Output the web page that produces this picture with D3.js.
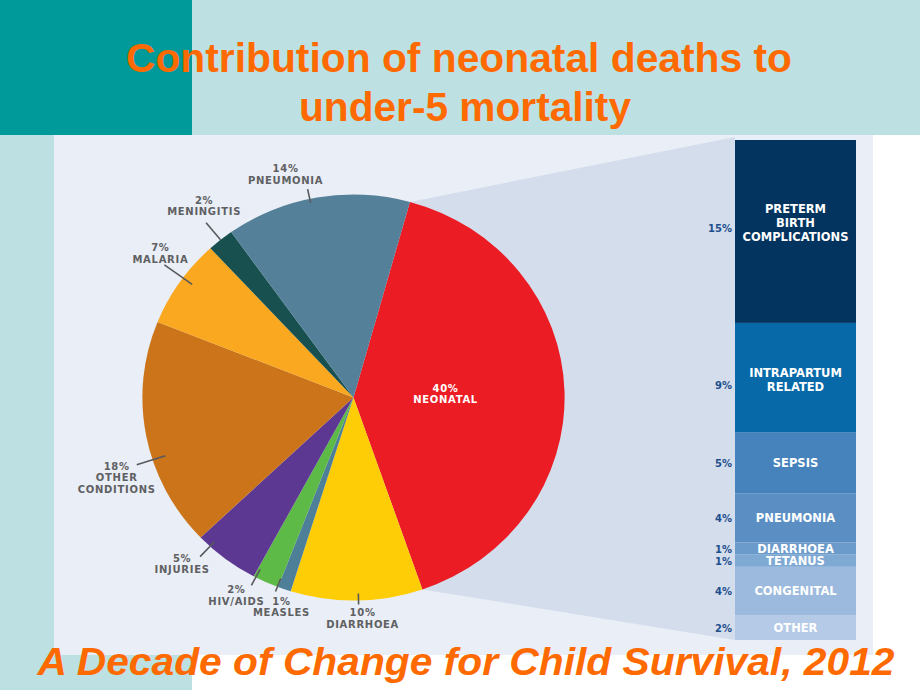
<!DOCTYPE html>
<html><head><meta charset="utf-8">
<script src="https://cdn.jsdelivr.net/npm/d3@7"></script>
<style>body{margin:0;background:#fff}svg{display:block}</style>
</head><body><svg id="c" width="920" height="690"></svg>
<script>
// ---- data ----
const pieCategories = ["NEONATAL","DIARRHOEA","MEASLES","HIV/AIDS","INJURIES","OTHER\nCONDITIONS","MALARIA","MENINGITIS","PNEUMONIA"];
const pieValues = [40,10,1,2,5,18,7,2,14];
const pieColors = ["#ec1c24","#ffcd05","#4e7f99","#5dba47","#5c3893","#cc7419","#f9a81f","#17504f","#55809a"];
const barCategories = ["PRETERM\nBIRTH\nCOMPLICATIONS","INTRAPARTUM\nRELATED","SEPSIS","PNEUMONIA","DIARRHOEA","TETANUS","CONGENITAL","OTHER"];
const barValues = [15,9,5,4,1,1,4,2];
const barColors = ["#03345f","#0769a8","#4682bb","#5b8fc4","#6b9bcb","#7ea9d3","#9bbadd","#b4cae6"];
const titleLines = ["Contribution of neonatal deaths to","under-5 mortality"];
const sourceText = "A Decade of Change for Child Survival, 2012";

// ---- layout ----
const W = 920, H = 690;
const cx = 353.5, cy = 397.5, R = 203, sx = 1.04;
const startDeg = 15.5;
// per outside label: angle tweak (deg), leader radii, text offset from leader end
const labelLayout = [
  null,
  {da:-0.5, r0:196, r1:207, dx:4,  dy:8},
  {da:2,    r0:194, r1:208, dx:6,  dy:9},
  {da:3,    r0:194, r1:212, dx:-15,dy:4},
  {da:5.5,  r0:197, r1:217, dx:-18,dy:1},
  {da:-7,   r0:190, r1:219, dx:-20,dy:1},
  {da:1.5,  r0:192, r1:225, dx:-4, dy:-18},
  {da:0,    r0:203, r1:225, dx:-2, dy:-23},
  {da:-2,   r0:199, r1:213, dx:-22,dy:-21}
];
const pieFont = 10, pieLS = 0.7, pieLH = 11.7;
const barX = 735, barW = 121, barTop = 140, barBottom = 640;
const barTextDy = [-8,2,0,0,0,0,0,0];
const barPctDy = [-3,7,0,0,0,0,0,0];

const svg = d3.select("#c");
const rad = d => d * Math.PI / 180;

// ---- background ----
svg.append("rect").attr("width",W).attr("height",H).attr("fill","#ffffff");
svg.append("rect").attr("width",W).attr("height",135).attr("fill","#bde1e3");
svg.append("rect").attr("width",192).attr("height",135).attr("fill","#009a9a");
svg.append("rect").attr("x",0).attr("y",135).attr("width",54).attr("height",520).attr("fill","#bde1e3");
svg.append("rect").attr("x",0).attr("y",655).attr("width",192).attr("height",35).attr("fill","#bde1e3");
svg.append("rect").attr("x",54).attr("y",135).attr("width",819).attr("height",520).attr("fill","#e9eef7");

// ---- pie geometry ----
const pie = d3.pie().sort(null).value(d => d)
  .startAngle(rad(startDeg)).endAngle(rad(startDeg) + 2*Math.PI);
const arcs = pie(pieValues);
const toScreen = p => [cx + p[0]*sx, cy + p[1]];

// ---- zoom wedge ----
const yScale = d3.scaleLinear().domain([0, d3.sum(barValues)]).range([barTop, barBottom]);
const neo = arcs[0];
const pA = toScreen(d3.pointRadial(neo.startAngle, R));
const pB = toScreen(d3.pointRadial(neo.endAngle, R));
svg.append("path")
  .attr("d", d3.line()([[cx,cy], pA, [barX, yScale(0)-3], [barX, yScale(d3.sum(barValues))], pB]) + "Z")
  .attr("fill","#d4ddec");

// ---- pie ----
const gPie = svg.append("g").attr("transform",`translate(${cx},${cy}) scale(${sx},1)`);
const arcGen = d3.arc().innerRadius(0).outerRadius(R);
gPie.selectAll("path").data(arcs).join("path")
  .attr("d", arcGen)
  .attr("fill", (d,i) => pieColors[i]);

// neonatal label (inside)
{
  const mid = (neo.startAngle + neo.endAngle)/2;
  const p = toScreen(d3.pointRadial(mid, R*0.46));
  const t = svg.append("text").attr("text-anchor","middle")
    .attr("font-family","DejaVu Sans").attr("font-weight","bold")
    .attr("font-size",pieFont).attr("letter-spacing",pieLS).attr("fill","#ffffff");
  [pieValues[0]+"%", pieCategories[0]].forEach((s,k) =>
    t.append("tspan").attr("x",p[0]-5).attr("y",p[1]-3+k*pieLH).text(s));
}

// outside labels with leaders
arcs.forEach((a,i) => {
  if (i === 0) return;
  const L = labelLayout[i];
  const ang = (a.startAngle + a.endAngle)/2 + rad(L.da);
  const p0 = toScreen(d3.pointRadial(ang, L.r0));
  const p1 = toScreen(d3.pointRadial(ang, L.r1));
  svg.append("line").attr("x1",p0[0]).attr("y1",p0[1]).attr("x2",p1[0]).attr("y2",p1[1])
    .attr("stroke","#58595b").attr("stroke-width",1.6);
  const lines = [pieValues[i]+"%"].concat(pieCategories[i].split("\n"));
  const t = svg.append("text").attr("text-anchor","middle")
    .attr("font-family","DejaVu Sans").attr("font-weight","bold")
    .attr("font-size",pieFont).attr("letter-spacing",pieLS).attr("fill","#5f6062");
  lines.forEach((s,k) =>
    t.append("tspan").attr("x",p1[0]+L.dx).attr("y",p1[1]+L.dy+4+k*pieLH).text(s));
});

// ---- stacked bar ----
let cum = 0;
const segs = barValues.map((v,i) => { const s = {i, v, y0: cum, y1: cum+v}; cum += v; return s; });
svg.selectAll("rect.seg").data(segs).join("rect").attr("class","seg")
  .attr("x",barX).attr("width",barW)
  .attr("y",d => yScale(d.y0)).attr("height",d => yScale(d.y1)-yScale(d.y0))
  .attr("fill",d => barColors[d.i]);

segs.forEach(d => {
  const ym = (yScale(d.y0)+yScale(d.y1))/2;
  const lines = barCategories[d.i].split("\n");
  const lh = 14;
  const t = svg.append("text").attr("text-anchor","middle")
    .attr("font-family","DejaVu Sans").attr("font-weight","bold")
    .attr("font-size",11.5).attr("fill","#ffffff");
  lines.forEach((s,k) =>
    t.append("tspan").attr("x",barX+barW/2)
      .attr("y", ym + barTextDy[d.i] + 4 + (k-(lines.length-1)/2)*lh).text(s));
  svg.append("text").attr("x",barX-3).attr("y",ym+barPctDy[d.i]+4)
    .attr("text-anchor","end").attr("font-family","DejaVu Sans").attr("font-weight","bold")
    .attr("font-size",10).attr("fill","#1d4f8c").text(d.v+"%");
});

// ---- titles ----
svg.append("text").attr("x",459).attr("y",72).attr("text-anchor","middle")
  .attr("font-family","Liberation Sans").attr("font-weight","bold").attr("font-size",41)
  .attr("fill","#ff6a00").attr("textLength",666).attr("lengthAdjust","spacingAndGlyphs")
  .text(titleLines[0]);
svg.append("text").attr("x",465).attr("y",121).attr("text-anchor","middle")
  .attr("font-family","Liberation Sans").attr("font-weight","bold").attr("font-size",41)
  .attr("fill","#ff6a00").attr("textLength",332).attr("lengthAdjust","spacingAndGlyphs")
  .text(titleLines[1]);
svg.append("text").attr("x",466).attr("y",675).attr("text-anchor","middle")
  .attr("font-family","Liberation Sans").attr("font-weight","bold").attr("font-style","italic")
  .attr("font-size",39).attr("fill","#ff6a00").attr("textLength",857).attr("lengthAdjust","spacingAndGlyphs")
  .text(sourceText);
</script></body></html>
